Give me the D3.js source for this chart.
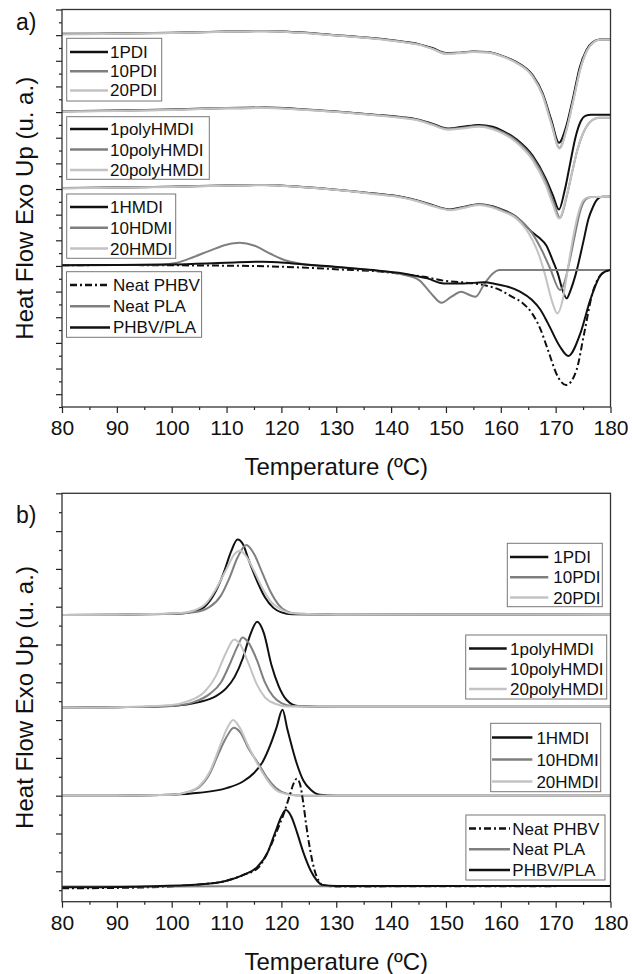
<!DOCTYPE html>
<html>
<head>
<meta charset="utf-8">
<script src="https://cdn.jsdelivr.net/npm/d3@7"></script>
<style>
  body { margin: 0; background: #fff; }
  text { font-family: "Liberation Sans", Arial, sans-serif; fill: #111; }
</style>
</head>
<body>
<div id="chart"></div>
<script>
/* CONSTANTS AND GLOBALS */
const width = 632, height = 974,
  margin = { left: 62, right: 21.5 };
const BLACK = "#111", GREY = "#7f7f7f", LIGHT = "#c3c3c3";
let svg;

/* DATA: [temperature (ºC), heat flow (u. a., stacked)] */
// a) melting
const a_1PDI = [[80,29.10],[90,29.13],[100,29.18],[110,29.28],[117,29.32],[123,29.22],[130,29.0],[137,28.75],[142,28.5],[145,28.3],[147.5,28.0],[150,27.6],[152,27.62],[155,27.72],[157.5,27.68],[160,27.42],[162.8,26.91],[165.8,25.88],[167.6,24.5],[169.2,22.4],[170.6,20.6],[171.9,21.85],[173.1,23.97],[174.4,26.5],[175.6,27.83],[176.8,28.47],[178,28.66],[180,28.66]];
const a_10PDI = [[80,29.08],[90,29.12],[100,29.17],[110,29.27],[117,29.3],[123,29.2],[130,28.98],[137,28.73],[142,28.48],[145,28.28],[147.5,27.95],[150,27.56],[152,27.6],[155,27.7],[157.5,27.66],[160,27.4],[162.8,26.88],[165.8,25.82],[167.6,24.4],[169.2,22.2],[170.7,20.2],[172,21.7],[173.2,23.9],[174.5,26.4],[175.7,27.8],[176.9,28.45],[178,28.64],[180,28.64]];
const a_20PDI = [[80,29.06],[90,29.1],[100,29.16],[110,29.26],[117,29.3],[123,29.19],[130,28.97],[137,28.72],[142,28.46],[145,28.26],[147.5,27.93],[150,27.54],[152,27.58],[155,27.68],[157.5,27.64],[160,27.37],[162.8,26.84],[165.8,25.76],[167.6,24.3],[169.2,22.1],[170.7,20.15],[172,21.65],[173.2,23.85],[174.5,26.35],[175.7,27.78],[176.9,28.44],[178,28.64],[180,28.64]];
const a_1polyHMDI = [[80,23.07],[90,23.12],[100,23.2],[110,23.32],[117,23.35],[123,23.25],[130,23.05],[137,22.8],[142,22.6],[144.6,22.45],[147.5,22.1],[150.3,21.72],[153,21.85],[156,22.0],[158.5,21.85],[160.5,21.5],[162.8,20.9],[165.8,19.6],[168.2,17.8],[169.5,16.5],[170.6,15.4],[171.6,16.8],[172.6,18.9],[173.6,21.0],[174.6,22.3],[175.4,22.7],[176.5,22.8],[180,22.8]];
const a_10polyHMDI = [[80,23.05],[90,23.1],[100,23.18],[110,23.3],[117,23.33],[123,23.22],[130,23.02],[137,22.78],[142,22.57],[144.6,22.42],[147.5,22.05],[150.3,21.68],[153,21.78],[156,21.92],[158.5,21.75],[160.5,21.4],[162.8,20.78],[165.8,19.45],[168.2,17.6],[169.6,16.0],[170.8,14.75],[172,16.4],[173,18.3],[174,20.1],[175,21.35],[176,22.1],[177,22.45],[178,22.55],[180,22.55]];
const a_20polyHMDI = [[80,23.04],[90,23.09],[100,23.17],[110,23.29],[117,23.32],[123,23.2],[130,23.0],[137,22.75],[142,22.53],[144.6,22.38],[147.5,22.0],[150.3,21.62],[153,21.72],[156,21.85],[158.5,21.66],[160.5,21.3],[162.8,20.65],[165.8,19.25],[168.2,17.3],[169.5,15.8],[170.6,14.7],[171.9,16.3],[173,18.3],[174,20.1],[175,21.35],[176,22.1],[177,22.45],[178,22.55],[180,22.55]];
const a_1HMDI = [[80,17.07],[90,17.12],[100,17.18],[110,17.28],[117,17.32],[123.4,17.17],[130,16.95],[137,16.65],[142,16.38],[144.6,16.13],[147.5,15.75],[150.7,15.41],[153,15.58],[156,15.82],[158.5,15.65],[160.5,15.35],[162.7,14.88],[165.8,13.6],[167,13.2],[168.3,12.6],[169.5,11.4],[170.4,10.4],[171.2,9.2],[172,8.47],[172.8,9.2],[173.7,10.42],[175,12.8],[176,14.7],[176.8,15.6],[177.6,16.2],[178.5,16.39],[180,16.39]];
const a_10HDMI = [[80,17.06],[90,17.11],[100,17.17],[110,17.27],[117,17.31],[123.4,17.16],[130,16.94],[137,16.63],[142,16.36],[144.6,16.11],[147.5,15.72],[150.7,15.39],[153,15.55],[156,15.8],[158.5,15.62],[160.5,15.3],[162.7,14.85],[165.8,13.5],[167.5,12.2],[169,10.8],[170.8,9.12],[171.6,9.7],[172.5,11.3],[173.5,13.4],[174.5,15.3],[175.5,16.2],[176.5,16.37],[180,16.39]];
const a_20HMDI = [[80,17.05],[90,17.1],[100,17.16],[110,17.26],[117,17.3],[123.4,17.15],[130,16.92],[137,16.6],[142,16.33],[144.6,16.07],[147.5,15.68],[150.7,15.35],[153,15.5],[156,15.75],[158.5,15.55],[160.5,15.22],[162.7,14.75],[165.8,13.0],[167,11.8],[168,10.42],[169.3,8.3],[170.3,7.3],[171.2,8.2],[172,10.2],[173,12.8],[174,14.9],[175,16.1],[176,16.35],[180,16.39]];
const a_neatPHBV = [[80,11.05],[90,11.07],[100,11.05],[110,11.02],[117,10.98],[125,10.85],[132,10.7],[137,10.6],[142.2,10.36],[146,10.15],[149.6,9.85],[153,9.72],[156.9,9.51],[160,9.1],[162,8.6],[164,8.1],[165.7,7.3],[167.2,6.1],[168.6,4.44],[170.4,2.36],[171.9,1.71],[173.8,2.88],[175.2,5.74],[176.7,8.86],[178.2,10.29],[179,10.55],[180,10.68]];
const a_neatPLA = [[80,11.05],[90,11.07],[98,11.1],[101,11.25],[104,11.7],[107,12.2],[110,12.65],[112.4,12.8],[115,12.6],[118,11.95],[121,11.4],[123.5,11.17],[127,11.0],[132,10.85],[138,10.6],[142,10.35],[145.1,9.9],[147.2,8.9],[149.2,8.13],[151,8.6],[152.8,8.99],[154.2,8.75],[155.4,8.6],[157,9.6],[158.5,10.4],[159.8,10.68],[180,10.68]];
const a_PHBVPLA = [[80,11.05],[90,11.08],[100,11.12],[110,11.25],[116.5,11.33],[122,11.2],[129.7,10.94],[136,10.7],[142.2,10.42],[146.6,10.03],[149.6,9.64],[153.2,9.64],[156.9,9.72],[159,9.6],[161.3,9.38],[163.5,9.0],[165.7,8.34],[167.2,7.6],[168.6,6.52],[170.8,4.7],[172.3,3.98],[174.5,5.74],[176.3,8.34],[178.2,10.29],[179,10.55],[180,10.68]];

// b) crystallization
const b_1PDI = [[80,15.56],[90,15.58],[100,15.62],[104,15.75],[106,16.0],[108,16.8],[109.5,17.8],[110.8,18.9],[112,19.56],[113,19.3],[114,18.5],[115.5,17.4],[117,16.5],[118.5,15.95],[120,15.7],[122,15.6],[130,15.58],[180,15.6]];
const b_10PDI = [[80,15.56],[90,15.58],[100,15.62],[104,15.7],[107,16.0],[109,16.6],[110.5,17.5],[112,18.6],[113.6,19.26],[115,18.8],[116.5,17.8],[118,16.8],[119.5,16.1],[121,15.75],[123,15.62],[130,15.58],[180,15.6]];
const b_20PDI = [[80,15.56],[90,15.58],[100,15.64],[103,15.72],[106,16.1],[108,16.9],[110,18.0],[111.5,18.8],[112.4,18.96],[113.5,18.7],[115,17.9],[116.5,17.0],[118,16.3],[120,15.85],[122,15.65],[130,15.58],[180,15.6]];
const b_1polyHMDI = [[80,10.65],[90,10.68],[100,10.75],[105,10.95],[108,11.25],[110,11.7],[111.5,12.3],[113,13.3],[114.3,14.5],[115.6,15.2],[116.8,14.6],[118.2,12.9],[119.5,11.8],[121,11.05],[123,10.75],[130,10.7],[180,10.7]];
const b_10polyHMDI = [[80,10.65],[90,10.68],[100,10.75],[104,10.95],[107,11.4],[109,12.0],[110.5,12.9],[112,13.9],[112.9,14.37],[114,14.1],[115.5,13.2],[117,12.0],[118.5,11.25],[120,10.9],[122,10.75],[130,10.7],[180,10.7]];
const b_20polyHMDI = [[80,10.65],[90,10.68],[100,10.8],[103,11.0],[106,11.5],[108,12.3],[109.8,13.5],[111.4,14.27],[112.5,14.0],[114,13.0],[115.5,11.9],[117,11.2],[119,10.85],[121,10.72],[130,10.7],[180,10.7]];
const b_1HMDI = [[80,5.99],[90,6.0],[100,6.05],[105,6.15],[110,6.4],[113,6.75],[115,7.2],[116.6,7.8],[118,8.7],[119.1,9.6],[120.2,10.55],[121.1,9.5],[122,8.5],[122.8,7.7],[124,6.8],[125.4,6.3],[127,6.05],[130,6.0],[180,6.0]];
const b_10HDMI = [[80,5.99],[90,6.0],[100,6.05],[103,6.2],[105,6.45],[107,7.2],[108.5,8.2],[110,9.1],[111.3,9.6],[112.5,9.35],[114,8.5],[115.8,7.7],[117.5,6.9],[119,6.4],[121,6.1],[124,6.0],[180,6.0]];
const b_20HMDI = [[80,5.99],[90,6.0],[100,6.05],[103,6.2],[105,6.5],[107,7.3],[108.5,8.4],[110,9.5],[111.2,10.0],[112.4,9.6],[114,8.6],[115.8,7.6],[117.5,6.8],[119,6.3],[121,6.08],[124,6.0],[180,6.0]];
const b_neatPHBV = [[80,1.1],[90,1.12],[100,1.2],[105,1.3],[110,1.5],[113,1.8],[115.8,2.2],[117.5,3.0],[119,4.0],[120.5,5.1],[121.5,6.0],[122.3,6.7],[122.8,6.9],[123.4,6.6],[124,5.6],[124.5,4.5],[125.2,3.2],[126,2.1],[126.8,1.5],[127.6,1.25],[130,1.2],[180,1.22]];
const b_neatPLA = [[80,1.2],[100,1.2],[120,1.21],[140,1.21],[160,1.22],[180,1.22]];
const b_PHBVPLA = [[80,1.15],[95,1.2],[105,1.3],[110,1.5],[113,1.8],[115.5,2.2],[117.5,3.0],[118.8,4.0],[120,4.9],[120.8,5.24],[121.8,4.9],[122.8,4.1],[124,3.0],[125.4,2.0],[126.5,1.5],[127.5,1.28],[130,1.22],[180,1.22]];

const tempTicks = [80, 90, 100, 110, 120, 130, 140, 150, 160, 170, 180];
const groupNames = [
  ["1PDI", "10PDI", "20PDI"],
  ["1polyHMDI", "10polyHMDI", "20polyHMDI"],
  ["1HMDI", "10HDMI", "20HMDI"],
  ["Neat PHBV", "Neat PLA", "PHBV/PLA"],
];
const groupStyles = [
  [{ c: BLACK }, { c: GREY }, { c: LIGHT }],
  [{ c: BLACK }, { c: GREY }, { c: LIGHT }],
  [{ c: BLACK }, { c: GREY }, { c: LIGHT }],
  [{ c: BLACK, dash: "7,3,2,3" }, { c: GREY }, { c: BLACK }],
];

const panels = [
  {
    label: "a)", labelY: 30, top: 9.5, bottom: 407, yDomain: [0, 31], majorOdd: true,
    series: [
      [a_1PDI, a_10PDI, a_20PDI],
      [a_1polyHMDI, a_10polyHMDI, a_20polyHMDI],
      [a_1HMDI, a_10HDMI, a_20HMDI],
      [a_neatPHBV, a_neatPLA, a_PHBVPLA],
    ],
    // legend boxes: [x0, y0, x1, y1, firstRowY, rowStep, lineX0, lineX1, textX]
    legends: [
      [66.7, 38.3, 161.7, 101, 52, 19.2, 70, 108, 110],
      [66.7, 116.7, 209.3, 179.3, 129, 20.5, 70, 108, 110],
      [66.7, 194, 175.7, 258.3, 207, 20.8, 70, 108, 110],
      [66.5, 271.7, 201.6, 337.3, 285, 21.2, 70, 110, 113],
    ],
  },
  {
    label: "b)", labelY: 523, top: 493.3, bottom: 901.7, yDomain: [0.39, 22], majorOdd: false,
    series: [
      [b_1PDI, b_10PDI, b_20PDI],
      [b_1polyHMDI, b_10polyHMDI, b_20polyHMDI],
      [b_1HMDI, b_10HDMI, b_20HMDI],
      [b_neatPHBV, b_neatPLA, b_PHBVPLA],
    ],
    legends: [
      [507.3, 543.3, 602.3, 606.7, 557, 20.3, 510, 548.3, 553.3],
      [465.7, 635, 606.7, 699, 648.5, 20.3, 469, 506.7, 510],
      [490.7, 723.3, 600.7, 791.7, 737.5, 22, 492, 532.4, 536.4],
      [465.9, 815, 605, 880, 828.5, 20.8, 469, 510, 512.3],
    ],
  },
];

/* INIT */
function init() {
  svg = d3.select("#chart").append("svg")
    .attr("width", width)
    .attr("height", height);

  panels.forEach((p, i) => draw(p, i));
}

/* DRAW FUNCTION */
function draw(p, i) {
  const x = d3.scaleLinear().domain([80, 180]).range([margin.left, width - margin.right]);
  const y = d3.scaleLinear().domain(p.yDomain).range([p.bottom, p.top]);
  const g = svg.append("g");

  g.append("clipPath").attr("id", "clip" + i)
    .append("rect")
    .attr("x", x(80)).attr("y", p.top)
    .attr("width", x(180) - x(80)).attr("height", p.bottom - p.top);

  // x axis: minor and major ticks
  g.append("g")
    .attr("transform", `translate(0,${p.bottom})`)
    .call(d3.axisBottom(x).tickValues(d3.range(85, 180, 10)).tickSize(3).tickFormat(""))
    .call(a => a.select(".domain").remove());
  g.append("g")
    .attr("transform", `translate(0,${p.bottom})`)
    .call(d3.axisBottom(x).tickValues(tempTicks).tickSize(6).tickPadding(7))
    .call(a => a.select(".domain").remove())
    .call(a => a.selectAll("text").attr("font-size", 21).attr("font-family", null).style("fill", "#111"));

  // y axis: unlabeled ticks
  const yt = d3.range(Math.ceil(p.yDomain[0]), Math.floor(p.yDomain[1]) + 1);
  const isMajor = v => (p.majorOdd ? v % 2 === 1 : v % 2 === 0);
  g.append("g")
    .attr("transform", `translate(${x(80)},0)`)
    .call(d3.axisLeft(y).tickValues(yt.filter(v => !isMajor(v))).tickSize(3).tickFormat(""))
    .call(a => a.select(".domain").remove());
  g.append("g")
    .attr("transform", `translate(${x(80)},0)`)
    .call(d3.axisLeft(y).tickValues(yt.filter(isMajor)).tickSize(6).tickFormat(""))
    .call(a => a.select(".domain").remove());
  g.selectAll(".tick line").attr("stroke", "#222").attr("stroke-width", 1.2);

  // curves
  const line = d3.line()
    .x(d => x(d[0]))
    .y(d => y(d[1]))
    .curve(d3.curveMonotoneX);

  const curves = g.append("g").attr("clip-path", `url(#clip${i})`);
  p.series.forEach((grp, gi) => {
    grp.forEach((s, si) => {
      const st = groupStyles[gi][si];
      curves.append("path")
        .datum(s)
        .attr("d", line)
        .attr("fill", "none")
        .attr("stroke", st.c)
        .attr("stroke-width", 2)
        .attr("stroke-dasharray", st.dash || null);
    });
  });

  // frame
  g.append("rect")
    .attr("x", x(80)).attr("y", p.top)
    .attr("width", x(180) - x(80)).attr("height", p.bottom - p.top)
    .attr("fill", "none")
    .attr("stroke", "#333")
    .attr("stroke-width", 1.3);

  // legends
  p.legends.forEach((L, gi) => {
    const [x0, y0, x1, y1, ry, step, lx0, lx1, tx] = L;
    const lg = g.append("g");
    lg.append("rect")
      .attr("x", x0).attr("y", y0)
      .attr("width", x1 - x0).attr("height", y1 - y0)
      .attr("fill", "#fff")
      .attr("stroke", "#777")
      .attr("stroke-width", 1);
    groupNames[gi].forEach((name, k) => {
      const st = groupStyles[gi][k];
      const yy = ry + k * step;
      lg.append("line")
        .attr("x1", lx0).attr("x2", lx1)
        .attr("y1", yy).attr("y2", yy)
        .attr("stroke", st.c)
        .attr("stroke-width", 2.5)
        .attr("stroke-dasharray", st.dash || null);
      lg.append("text")
        .attr("x", tx).attr("y", yy + 6)
        .attr("font-size", 17)
        .text(name);
    });
  });

  // titles
  g.append("text")
    .attr("x", (x(80) + x(180)) / 2)
    .attr("y", p.bottom + 68)
    .attr("text-anchor", "middle")
    .attr("font-size", 24)
    .text("Temperature (ºC)");

  g.append("text")
    .attr("transform", `translate(33,${(p.top + p.bottom) / 2}) rotate(-90)`)
    .attr("text-anchor", "middle")
    .attr("font-size", 24)
    .text("Heat Flow Exo Up (u. a.)");

  g.append("text")
    .attr("x", 16)
    .attr("y", p.labelY)
    .attr("font-size", 23)
    .text(p.label);
}

init();
</script>
</body>
</html>
